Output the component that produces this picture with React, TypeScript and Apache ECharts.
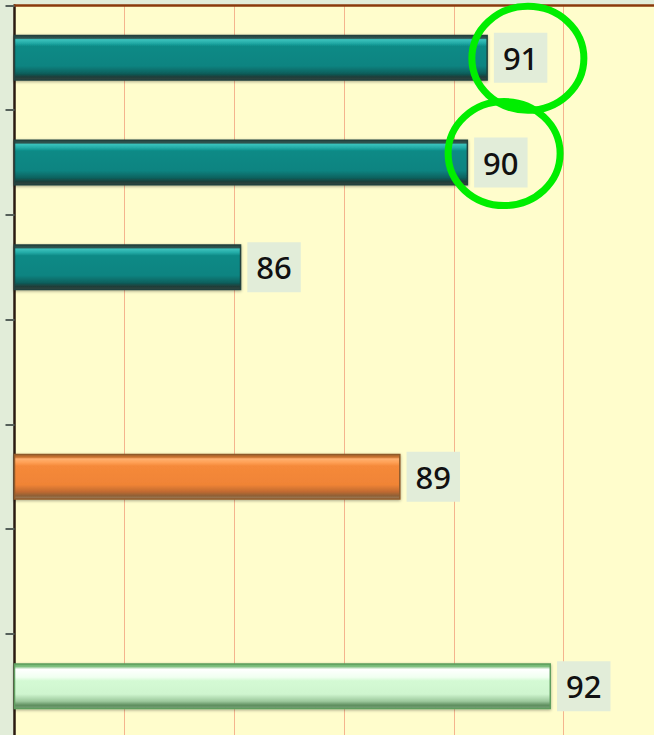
import React, { useEffect, useRef } from "react";
import * as echarts from "echarts";

// ---- data ----
const categories = ["Item 1", "Item 2", "Item 3", "Item 4", "Item 5", "Item 6", "Item 7"];
const values: (number | null)[] = [90.62, 90.26, 86.13, null, 89.03, null, 91.77];
const barKinds: (string | null)[] = ["teal", "teal", "teal", null, "orange", null, "mint"];
const circledItems = [0, 1];
const axisMin = 82;
const axisMax = 94;
const axisInterval = 2;

// ---- styles ----
const palettes: Record<string, { stops: [number, string][]; border: string }> = {
  teal: {
    border: "#22403C",
    stops: [
      [0, "#2A4844"],
      [0.06, "#2E5450"],
      [0.09, "#3AC2BC"],
      [0.17, "#22AAA6"],
      [0.24, "#0C8A86"],
      [0.68, "#0A8481"],
      [0.84, "#08625F"],
      [0.93, "#1F3D39"],
      [1, "#34473F"],
    ],
  },
  orange: {
    border: "#8E5A2A",
    stops: [
      [0, "#A86830"],
      [0.06, "#C8702E"],
      [0.1, "#FFB070"],
      [0.18, "#FFA055"],
      [0.26, "#F5893A"],
      [0.68, "#F08436"],
      [0.84, "#C06A30"],
      [0.93, "#8E6036"],
      [1, "#A08060"],
    ],
  },
  mint: {
    border: "#5E9E5E",
    stops: [
      [0, "#6CB06C"],
      [0.06, "#80C080"],
      [0.12, "#FFFFFF"],
      [0.3, "#F0FFF0"],
      [0.38, "#D4FAD4"],
      [0.68, "#CFF5CF"],
      [0.84, "#9CC89C"],
      [0.93, "#5E8E5E"],
      [1, "#7AA07A"],
    ],
  },
};

function gradient(kind: string) {
  const p = palettes[kind];
  return new echarts.graphic.LinearGradient(
    0,
    0,
    0,
    1,
    p.stops.map(([offset, color]) => ({ offset, color }))
  );
}

export default function App() {
  const ref = useRef<HTMLDivElement>(null);

  useEffect(() => {
    if (!ref.current) return;
    const chart = echarts.init(ref.current, null, { renderer: "svg" });

    const data = values.map((v, i) => {
      const kind = barKinds[i];
      if (v == null || !kind) return "-";
      return {
        value: v,
        itemStyle: {
          color: gradient(kind),
          borderColor: palettes[kind].border,
          borderWidth: 1.5,
          shadowColor: "rgba(0,0,0,0.35)",
          shadowBlur: 3,
          shadowOffsetY: 1,
        },
      };
    });

    chart.setOption({
      animation: false,
      backgroundColor: "#E2EDD9",
      grid: {
        left: 14.5,
        top: 5.5,
        right: -19.5,
        bottom: -3.5,
        show: true,
        backgroundColor: "#FFFDCC",
        borderWidth: 0,
        containLabel: false,
        outerBoundsMode: "none",
      },
      xAxis: {
        type: "value",
        position: "top",
        min: axisMin,
        max: axisMax,
        interval: axisInterval,
        axisLine: { show: true, lineStyle: { color: "#8B3A0C", width: 2.5 } },
        axisTick: { show: false },
        axisLabel: { show: false },
        splitLine: { show: true, lineStyle: { color: "#F4B48E", width: 1 } },
      },
      yAxis: {
        type: "category",
        inverse: true,
        data: categories,
        axisLine: { show: true, onZero: false, lineStyle: { color: "#2A1A10", width: 2.5 } },
        axisTick: { show: true, length: 9, interval: 0, lineStyle: { color: "#55605A", width: 2 } },
        axisLabel: { show: false },
        splitLine: { show: false },
      },
      series: [
        {
          type: "bar",
          data,
          barWidth: 46,
          label: {
            show: true,
            position: "right",
            distance: 6,
            formatter: (p: any) => String(Math.round(p.value)),
            backgroundColor: "#E2EDD9",
            padding: [10, 9, 9, 9],
            color: "#111",
            fontSize: 31,
            fontWeight: 500,
            fontFamily: "Noto Sans",
          },
        },
      ],
    });

    const offsets = [
      { dx: 40, dy: 0.5 },
      { dx: 36, dy: -9 },
    ];
    const graphics = circledItems.map((idx, k) => {
      const v = values[idx] as number;
      const pt = chart.convertToPixel({ gridIndex: 0 }, [v, idx]) as number[];
      return {
        type: "ellipse",
        z: 100,
        shape: { cx: pt[0] + offsets[k].dx, cy: pt[1] + offsets[k].dy, rx: 56, ry: 52 },
        style: { fill: "none", stroke: "#00EE00", lineWidth: 7 },
      };
    });
    chart.setOption({ graphic: graphics });

    return () => chart.dispose();
  }, []);

  return (
    <div
      ref={ref}
      style={{ position: "fixed", left: 0, top: 0, width: 654, height: 735 }}
    />
  );
}
